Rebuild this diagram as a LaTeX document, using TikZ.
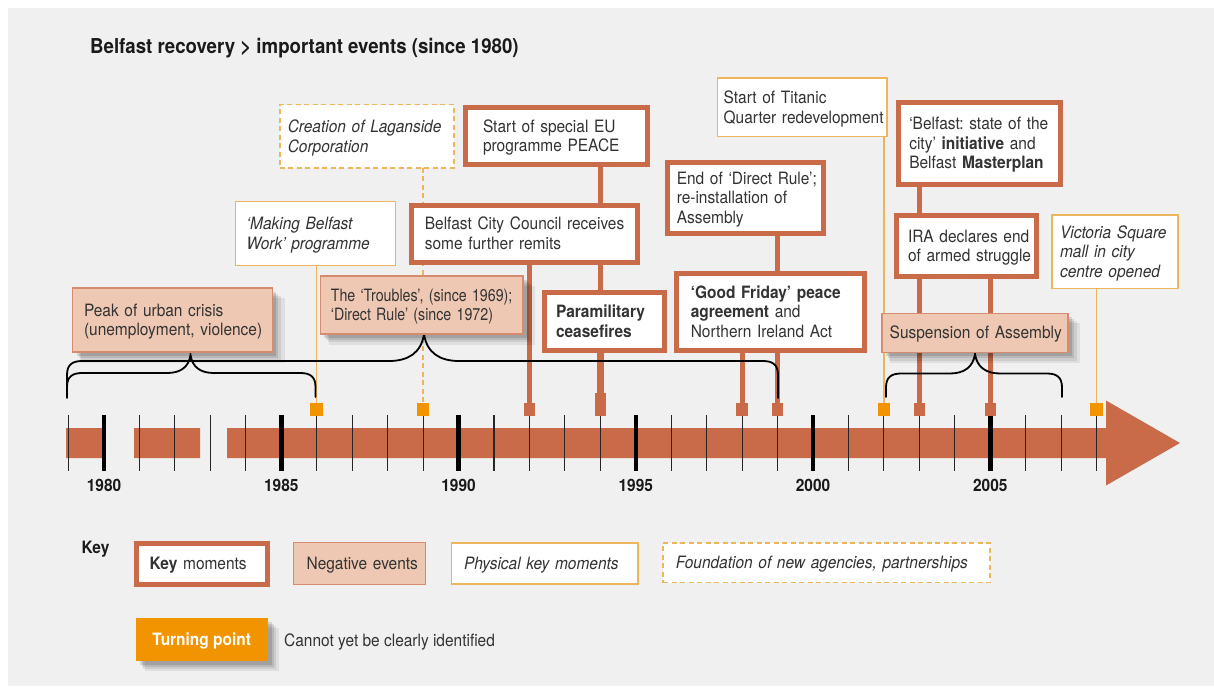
\documentclass[tikz,border=0pt]{standalone}
\usepackage{fontspec}
\setmainfont{TeX Gyre Heros}[FakeStretch=0.91]
\usetikzlibrary{shadows}
\frenchspacing

\definecolor{rust}{HTML}{C96A48}
\definecolor{negfill}{HTML}{EEC8B3}
\definecolor{negedge}{HTML}{D58B6E}
\definecolor{gold}{HTML}{EDB65C}
\definecolor{turn}{HTML}{F29400}
\definecolor{panel}{HTML}{F0F0F0}
\definecolor{txt}{HTML}{333333}
\definecolor{ink}{HTML}{1A1A1A}

\newcommand\bodyfont{\fontsize{17}{19.6}\selectfont}
% left-aligned lines of a box; the trimmed depth centres the letters optically
\newcommand\boxlines[1]{\setbox0=\hbox{\begin{tabular}{@{}l@{}}#1\end{tabular}}\dp0=\dimexpr\dp0-4pt\relax\box0}
% curly brace: x-left, x-right, x-tip, y of the horizontal run, y of the tip, y of the ends
\newcommand\drawbrace[6]{%
  \pgfmathsetmacro\brareach{1.3*(#4-#5)}%
  \draw[bracepen] (#1,#6) -- (#1,{#4+14})
    .. controls (#1,{#4+4}) and ({#1+5},#4) .. ({#1+15},#4)
    -- ({#3-\brareach},#4)
    .. controls ({#3-0.45*\brareach},#4) and ({#3-0.08*\brareach},{#4-0.3*(#4-#5)}) .. (#3,#5)
    .. controls ({#3+0.08*\brareach},{#4-0.3*(#4-#5)}) and ({#3+0.45*\brareach},#4) .. ({#3+\brareach},#4)
    -- ({#2-15},#4)
    .. controls ({#2-5},#4) and (#2,{#4+4}) .. (#2,{#4+14}) -- (#2,#6);}

\pgfdeclarelayer{backdrop}
\pgfdeclarelayer{wires}
\pgfsetlayers{backdrop,wires,main}

\tikzset{
  sz/.code n args={3}{%
    \pgfmathsetmacro\boxtw{#1-2*#3}%
    \edef\boxsetup{\noexpand\tikzset{minimum width=#1pt,minimum height=#2pt,inner xsep=#3pt,text width=\boxtw pt}}%
    \boxsetup},
  boxtext/.style={font=\bodyfont, text=txt, align=left, inner ysep=0pt, outer sep=0pt},
  slanted/.style={font=\bodyfont\itshape},
  keymoment/.style={boxtext, draw=rust, line width=5pt, fill=white},
  physical/.style={boxtext, draw=gold, line width=1.5pt, fill=white},
  agency/.style={physical, dash pattern=on 5pt off 3.5pt},
  negative/.style={boxtext, draw=negedge, line width=1.2pt, fill=negfill},
  shadowed/.style={
    general shadow={fill=black, opacity=0.07, shadow xshift=10pt, shadow yshift=-10pt, shadow scale=1.02},
    general shadow={fill=black, opacity=0.08, shadow xshift=8pt, shadow yshift=-8pt, shadow scale=1.01},
    general shadow={fill=black, opacity=0.10, shadow xshift=6pt, shadow yshift=-6pt},
    general shadow={fill=black, opacity=0.12, shadow xshift=4pt, shadow yshift=-4pt}},
  keyline/.style={draw=rust, line width=5pt},
  physline/.style={draw=gold, line width=1.5pt},
  agencyline/.style={physline, dash pattern=on 5pt off 3.5pt},
  rustmark/.style={fill=rust, minimum width=11.5pt, minimum height=13pt, inner sep=0pt, outer sep=0pt},
  turnmark/.style={fill=turn, minimum width=12.5pt, minimum height=13pt, inner sep=0pt, outer sep=0pt},
  thintick/.style={draw=black!85, line width=1.1pt},
  thicktick/.style={draw=black, line width=4.5pt},
  yearlabel/.style={font=\fontsize{17}{20}\selectfont\bfseries, text=ink, inner sep=0pt},
  bracepen/.style={draw=black, line width=1.8pt, line cap=round},
}

\begin{document}
\begin{tikzpicture}[x=1pt, y=-1pt]
\useasboundingbox (0,0) rectangle (1214,686);

% ---------- panel, time bar and year ticks ----------
\begin{pgfonlayer}{backdrop}
  \fill[white] (0,0) rectangle (1214,686);
  \fill[panel] (8,7.5) rectangle (1214,686);
  \fill[rust] (66,428) rectangle (103,458) (134,428) rectangle (200,458) (227,428) rectangle (1107,458);
  \fill[rust] (1106,400.5) -- (1180,443) -- (1106,485.5) -- cycle;
  \foreach \yy in {1979,...,2008}
    \draw[thintick] ({104+(\yy-1980)*35.45},415) -- ++(0,56);
  \foreach \yy in {1980,1985,...,2005}
    \draw[thicktick] ({104+(\yy-1980)*35.45},415) -- ++(0,56);
\end{pgfonlayer}

\foreach \yy in {1980,1985,...,2005}
  \node[yearlabel] (y\yy) at ({104+(\yy-1980)*35.45},485.5) {\yy};

% ---------- title ----------
\node[anchor=base west, font=\fontsize{20.5}{24}\selectfont\bfseries, text=ink, inner sep=0pt]
  (title) at (90,53) {Belfast recovery > important events (since 1980)};

% ---------- markers on the time bar ----------
\node[turnmark] (m1986) at ({104+6*35.45},409.5) {};
\node[turnmark] (m1989) at ({104+9*35.45},409.5) {};
\node[rustmark] (m1992) at ({104+12*35.45},409.5) {};
\node[rustmark, minimum height=23pt] (m1994) at ({104+14*35.45},404.5) {};
\node[rustmark] (m1998) at ({104+18*35.45},409.5) {};
\node[rustmark] (m1999) at ({104+19*35.45},409.5) {};
\node[turnmark] (m2002) at ({104+22*35.45},409.5) {};
\node[rustmark] (m2003) at ({104+23*35.45},409.5) {};
\node[rustmark] (m2005) at ({104+25*35.45},409.5) {};
\node[turnmark] (m2008) at ({104+28*35.45},409.5) {};

% ---------- event boxes ----------
\node[agency, slanted, sz={174.4}{63.2}{8}] (lagan) at (367,136.3)
  {\boxlines{Creation of Laganside\\Corporation}};
\node[physical, slanted, sz={159.6}{63.6}{11}] (mbw) at (315.5,233.5)
  {\boxlines{‘Making Belfast\\Work’ programme}};
\node[keymoment, sz={182}{57}{17.5}] (peace) at (556.5,136)
  {\boxlines{Start of special EU\\programme PEACE}};
\node[keymoment, sz={225.7}{57.3}{13}] (council) at (524.7,233.8)
  {\boxlines{Belfast City Council receives\\some further remits}};
\node[negative, shadowed, sz={199.8}{64}{11.5}] (peak) at (172.4,320)
  {\boxlines{Peak of urban crisis\\(unemployment, violence)}};
\node[negative, shadowed, sz={202.5}{58}{10.4}] (troubles) at (421.7,305)
  {\scalebox{0.92}[1]{\boxlines{The ‘Troubles’, (since 1969);\\‘Direct Rule’ (since 1972)}}};
\node[keymoment, sz={120}{58.3}{11.8}] (para) at (604.2,321.7)
  {\boxlines{\textbf{Paramilitary}\\\textbf{ceasefires}}};
\node[keymoment, sz={188}{77.6}{13.9}] (gf) at (770.9,312)
  {\boxlines{\textbf{‘Good Friday’ peace}\\\textbf{agreement} and\\Northern Ireland Act}};
\node[keymoment, sz={155.5}{71}{8.8}] (edr) at (745.7,198)
  {\boxlines{End of ‘Direct Rule’;\\re-installation of\\Assembly}};
\node[physical, sz={169.5}{58.5}{6.2}] (titanic) at (802.2,107.3)
  {\boxlines{Start of Titanic\\Quarter redevelopment}};
\node[keymoment, sz={162.6}{81.7}{11.2}] (state) at (979.4,143.3)
  {\boxlines{‘Belfast: state of the\\city’ \textbf{initiative} and\\Belfast \textbf{Masterplan}}};
\node[keymoment, sz={140.6}{61}{11.8}] (ira) at (966.5,246)
  {\boxlines{IRA declares end\\of armed struggle}};
\node[physical, slanted, sz={125.8}{73.5}{7.8}] (victoria) at (1115.1,251.8)
  {\boxlines{Victoria Square\\mall in city\\centre opened}};
\node[negative, shadowed, sz={186}{39}{7.7}] (susp) at (975,332.8)
  {\boxlines{Suspension of Assembly}};

% ---------- connectors and braces ----------
\begin{pgfonlayer}{wires}
  \draw[keyline] (peace.south -| m1994) -- (m1994.north);
  \draw[keyline, line width=7.5pt] (para.south -| m1994) -- (m1994.north);
  \draw[keyline] (council.south -| m1992) -- (m1992.north);
  \draw[keyline] (gf.south -| m1998) -- (m1998.north);
  \draw[keyline] (edr.south -| m1999) -- (m1999.north);
  \draw[keyline] (state.south -| m2003) -- (m2003.north);
  \draw[keyline] (ira.south -| m2005) -- (m2005.north);
  \draw[physline] (mbw.south -| m1986) -- (m1986.north);
  \draw[physline] (titanic.south -| m2002) -- (m2002.north);
  \draw[physline] (victoria.south -| m2008) -- (m2008.north);
  \draw[agencyline] (lagan.south -| m1989) -- (m1989.north);
  \drawbrace{67}{315.5}{190.5}{373}{355}{397}
  \drawbrace{67}{778}{424}{361}{334}{398}
  \drawbrace{886}{1062}{975}{373.5}{354}{397}
\end{pgfonlayer}

% ---------- key ----------
\node[anchor=base west, font=\fontsize{17}{20}\selectfont\bfseries, text=ink, inner sep=0pt]
  (keytitle) at (81.5,553) {Key};
\node[keymoment, sz={130.2}{40.7}{12.8}] (lkey) at (202,563.8)
  {\boxlines{\textbf{Key} moments}};
\node[negative, sz={131.4}{41.6}{12.8}] (lneg) at (359.5,563.5)
  {\boxlines{Negative events}};
\node[physical, slanted, sz={186.8}{41}{12.6}] (lphys) at (544.8,563.5)
  {\boxlines{Physical key moments}};
\node[agency, slanted, sz={327}{39.7}{12.8}] (lagency) at (826.5,562.8)
  {\boxlines{Foundation of new agencies, partnerships}};
\node[fill=turn, shadowed, font=\bodyfont\bfseries, text=white, inner sep=0pt, align=center,
      minimum width=132pt, minimum height=42.4pt] (lturn) at (201.7,639.5) {\boxlines{Turning point}};
\node[anchor=base west, font=\bodyfont, text=txt, inner sep=0pt]
  (lturnnote) at (284,646) {Cannot yet be clearly identified};
\end{tikzpicture}
\end{document}
